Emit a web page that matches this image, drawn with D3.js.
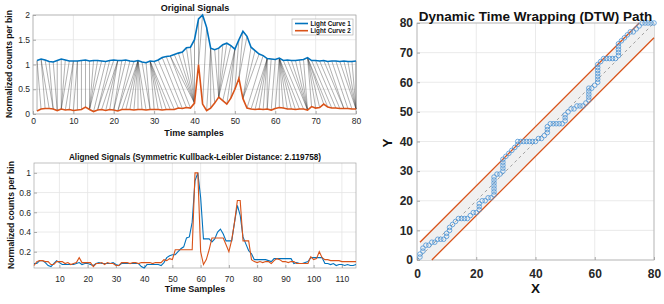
<!DOCTYPE html>
<html>
<head>
<meta charset="utf-8">
<script src="https://cdn.jsdelivr.net/npm/d3@7"></script>
<style>
  body { margin: 0; background: #fff; }
  svg { font-family: "Liberation Sans", Arial, Helvetica, sans-serif; }
</style>
</head>
<body>
<svg id="fig" width="664" height="304"></svg>
<script>
// ---- data ----
// Light Curve 1 is drawn with a +1 offset in the top panel
const lightCurve1 = [1.08, 1.11, 1.09, 1.06, 1.05, 1.08, 1.11, 1.09, 1.07, 1.07,
  1.07, 1.08, 1.09, 1.07, 1.08, 1.08, 1.07, 1.06, 1.08, 1.09,
  1.08, 1.08, 1.09, 1.07, 1.06, 1.08, 1.05, 1.035, 1.07, 1.06,
  1.09, 1.14, 1.16, 1.17, 1.20, 1.23, 1.25, 1.34, 1.35, 1.50,
  1.92, 2.00, 1.75, 1.33, 1.30, 1.33, 1.40, 1.43, 1.38, 1.31,
  1.50, 1.67, 1.57, 1.35, 1.28, 1.21, 1.18, 1.12, 1.11, 1.10,
  1.13, 1.08, 1.09, 1.08, 1.08, 1.09, 1.10, 1.14, 1.08, 1.08,
  1.07, 1.08, 1.06, 1.07, 1.07, 1.06, 1.07, 1.06, 1.06, 1.07];
const lightCurve2 = [0.06, 0.10, 0.11, 0.11, 0.10, 0.07, 0.10, 0.08, 0.09, 0.07,
  0.08, 0.09, 0.14, 0.09, 0.05, 0.08, 0.09, 0.07, 0.09, 0.08,
  0.06, 0.09, 0.09, 0.09, 0.08, 0.09, 0.09, 0.08, 0.09, 0.09,
  0.09, 0.08, 0.09, 0.09, 0.09, 0.12, 0.11, 0.13, 0.12, 0.22,
  1.00, 0.20, 0.07, 0.12, 0.22, 0.34, 0.27, 0.20, 0.32, 0.50,
  0.72, 0.31, 0.12, 0.10, 0.09, 0.10, 0.09, 0.10, 0.08, 0.11,
  0.13, 0.12, 0.10, 0.10, 0.09, 0.10, 0.10, 0.08, 0.15, 0.12,
  0.13, 0.20, 0.14, 0.12, 0.12, 0.11, 0.11, 0.11, 0.10, 0.10];
const curve1Offset = 1;

// DTW warping path: index into curve 1 (X) and curve 2 (Y)
const pathX = [1, 1, 2, 2, 3, 4, 5, 6, 7, 8, 9, 10, 10, 11, 11, 12, 13, 14, 15, 16,
  17, 18, 19, 20, 21, 21, 21, 22, 23, 24, 25, 26, 26, 26, 26, 26, 26, 26, 27, 28,
  29, 29, 29, 29, 29, 30, 31, 32, 33, 34, 34, 35, 36, 37, 38, 39, 40, 41, 42, 43,
  44, 44, 44, 45, 46, 47, 48, 49, 50, 50, 50, 51, 52, 53, 54, 55, 56, 57, 58, 58,
  58, 58, 58, 59, 60, 61, 61, 61, 61, 61, 61, 61, 62, 63, 64, 65, 66, 67, 68, 68,
  68, 68, 68, 69, 70, 71, 72, 73, 74, 75, 76, 77, 78, 79, 80];
const pathY = [1, 2, 3, 4, 5, 5, 6, 6, 7, 7, 7, 8, 9, 10, 11, 12, 13, 14, 14, 14,
  14, 15, 16, 16, 17, 18, 19, 20, 20, 21, 21, 22, 23, 24, 25, 26, 27, 28, 29, 29,
  30, 31, 32, 33, 34, 35, 36, 37, 38, 39, 40, 40, 40, 40, 40, 40, 40, 41, 41, 42,
  43, 44, 45, 46, 46, 46, 46, 46, 47, 48, 49, 50, 51, 51, 52, 52, 52, 53, 54, 55,
  56, 57, 58, 58, 59, 60, 61, 62, 63, 64, 65, 66, 67, 68, 68, 68, 68, 68, 69, 70,
  71, 72, 73, 74, 75, 76, 77, 77, 78, 79, 80, 80, 80, 80, 80];

// Sakoe-Chiba window edges
const windowUpper = [[1, 6], [75, 80]];
const windowLower = [[5, 0], [80, 75]];

const klDistance = "2.119758";

// tick values
const topXTicks = [0, 10, 20, 30, 40, 50, 60, 70, 80];
const topYTicks = [0, 0.5, 1, 1.5, 2];
const botXTicks = [10, 20, 30, 40, 50, 60, 70, 80, 90, 100, 110];
const botYTicks = [0.2, 0.4, 0.6, 0.8, 1];
const dtwXTicks = [0, 20, 40, 60, 80];
const dtwYTicks = [0, 10, 20, 30, 40, 50, 60, 70, 80];

const BLUE = "#0072BD", ORANGE = "#D95319";
const svg = d3.select("#fig");

// draws box, grid and inward ticks for one panel, returns its scales
function makePanel(cfg) {
  const x = d3.scaleLinear().domain(cfg.xDomain).range([cfg.left, cfg.right]);
  const y = d3.scaleLinear().domain(cfg.yDomain).range([cfg.bottom, cfg.top]);
  const g = svg.append("g");

  g.append("rect")
    .attr("x", cfg.left).attr("y", cfg.top)
    .attr("width", cfg.right - cfg.left).attr("height", cfg.bottom - cfg.top)
    .attr("fill", "#fff");

  g.selectAll(".gx").data(cfg.xTicks).join("line")
    .attr("x1", d => x(d)).attr("x2", d => x(d))
    .attr("y1", cfg.top).attr("y2", cfg.bottom)
    .attr("stroke", "#e4e4e4").attr("stroke-width", 0.8);
  g.selectAll(".gy").data(cfg.yTicks).join("line")
    .attr("x1", cfg.left).attr("x2", cfg.right)
    .attr("y1", d => y(d)).attr("y2", d => y(d))
    .attr("stroke", "#e4e4e4").attr("stroke-width", 0.8);

  const xAxis = d3.axisBottom(x).tickValues(cfg.xTicks).tickFormat(d3.format("")).tickSize(-3).tickPadding(cfg.xPad);
  const yAxis = d3.axisLeft(y).tickValues(cfg.yTicks).tickFormat(d3.format("")).tickSize(-3).tickPadding(cfg.yPad);

  const xg = g.append("g").attr("transform", `translate(0,${cfg.bottom})`).call(xAxis);
  const yg = g.append("g").attr("transform", `translate(${cfg.left},0)`).call(yAxis);
  [xg, yg].forEach(a => {
    a.select(".domain").remove();
    a.selectAll("line").attr("stroke", "#777").attr("stroke-width", 0.6);
    a.selectAll("text")
      .attr("fill", "#262626")
      .style("font-size", cfg.tickFont + "px")
      .style("font-weight", cfg.tickBold ? "bold" : "normal");
  });

  g.append("rect")
    .attr("x", cfg.left).attr("y", cfg.top)
    .attr("width", cfg.right - cfg.left).attr("height", cfg.bottom - cfg.top)
    .attr("fill", "none").attr("stroke", "#a6a6a6").attr("stroke-width", 0.7);

  const plot = svg.append("g");
  return {x, y, plot};
}

function addText(txt, x, y, size, opts = {}) {
  const t = svg.append("text")
    .attr("x", x).attr("y", y)
    .attr("text-anchor", "middle")
    .attr("fill", opts.fill || "#111")
    .style("font-size", size + "px")
    .style("font-weight", opts.bold === false ? "normal" : "bold")
    .text(txt);
  if (opts.rotate) t.attr("transform", `rotate(-90,${x},${y})`);
  return t;
}

// ---------- top: original signals ----------
const topPanel = makePanel({
  left: 33, right: 356, top: 15, bottom: 114,
  xDomain: [0, 80], yDomain: [0, 2],
  xTicks: topXTicks, yTicks: topYTicks,
  xPad: 3.5, yPad: 3, tickFont: 8.5
});

topPanel.plot.selectAll(".link").data(d3.zip(pathX, pathY)).join("line")
  .attr("x1", d => topPanel.x(d[0])).attr("y1", d => topPanel.y(lightCurve1[d[0] - 1]))
  .attr("x2", d => topPanel.x(d[1])).attr("y2", d => topPanel.y(lightCurve2[d[1] - 1]))
  .attr("stroke", "#333").attr("stroke-width", 0.45).attr("stroke-opacity", 0.85);

const topLine = d3.line().x((d, i) => topPanel.x(i + 1)).y(d => topPanel.y(d));
topPanel.plot.append("path").datum(lightCurve1).attr("d", topLine)
  .attr("fill", "none").attr("stroke", BLUE).attr("stroke-width", 1.6);
topPanel.plot.append("path").datum(lightCurve2).attr("d", topLine)
  .attr("fill", "none").attr("stroke", ORANGE).attr("stroke-width", 1.6);

// legend
const legend = svg.append("g");
legend.append("rect").attr("x", 292).attr("y", 19).attr("width", 61).attr("height", 16)
  .attr("fill", "#fff").attr("stroke", "#a6a6a6").attr("stroke-width", 0.6);
[["Light Curve 1", BLUE], ["Light Curve 2", ORANGE]].forEach((e, i) => {
  const ly = 23.5 + i * 7.2;
  legend.append("line").attr("x1", 295).attr("x2", 308).attr("y1", ly).attr("y2", ly)
    .attr("stroke", e[1]).attr("stroke-width", 1.6);
  legend.append("text").attr("x", 310.5).attr("y", ly + 2.2)
    .style("font-size", "6.3px").style("font-weight", "bold").attr("fill", "#111").text(e[0]);
});

addText("Original Signals", 195, 11, 9);
addText("Time samples", 194, 135.5, 9);
addText("Normalized counts per bin", 12, 64, 8.6, {rotate: true});

// ---------- bottom: aligned signals ----------
const alignedIdx = d3.range(1, pathX.length + 1);
const aligned1 = pathX.map(i => lightCurve1[i - 1] - curve1Offset);
const aligned2 = pathY.map(j => lightCurve2[j - 1]);

const botPanel = makePanel({
  left: 34, right: 356, top: 163, bottom: 268,
  xDomain: [1, pathX.length], yDomain: [d3.min(aligned1.concat(aligned2)), 1.1],
  xTicks: botXTicks, yTicks: botYTicks,
  xPad: 7.5, yPad: 3, tickFont: 8.5
});

const botLine = d3.line().x((d, i) => botPanel.x(alignedIdx[i])).y(d => botPanel.y(d));
botPanel.plot.append("path").datum(aligned1).attr("d", botLine)
  .attr("fill", "none").attr("stroke", BLUE).attr("stroke-width", 1.1);
botPanel.plot.append("path").datum(aligned2).attr("d", botLine)
  .attr("fill", "none").attr("stroke", ORANGE).attr("stroke-width", 1.1);

addText(`Aligned Signals (Symmetric Kullback-Leibler Distance: ${klDistance})`, 195, 160, 8.2);
addText("Time Samples", 195, 292, 9);
addText("Normalized counts per bin", 14, 215, 8.6, {rotate: true});

// ---------- right: DTW path ----------
const dtwPanel = makePanel({
  left: 417, right: 654, top: 23, bottom: 260,
  xDomain: [0, 80], yDomain: [0, 80],
  xTicks: dtwXTicks, yTicks: dtwYTicks,
  xPad: 9.5, yPad: 4, tickFont: 12, tickBold: true
});

const bandPts = [[windowLower[0][0], 0], [1, 0], windowUpper[0], windowUpper[1],
  [80, 80], windowLower[1]];
dtwPanel.plot.append("path")
  .attr("d", d3.line().x(d => dtwPanel.x(d[0])).y(d => dtwPanel.y(d[1]))(bandPts) + "Z")
  .attr("fill", "#f0f0f0");

dtwPanel.plot.append("line")
  .attr("x1", dtwPanel.x(0)).attr("y1", dtwPanel.y(0)).attr("x2", dtwPanel.x(80)).attr("y2", dtwPanel.y(80))
  .attr("stroke", "#9a9a9a").attr("stroke-width", 0.9).attr("stroke-dasharray", "3,3");

[windowUpper, windowLower].forEach(w => {
  dtwPanel.plot.append("line")
    .attr("x1", dtwPanel.x(w[0][0])).attr("y1", dtwPanel.y(w[0][1]))
    .attr("x2", dtwPanel.x(w[1][0])).attr("y2", dtwPanel.y(w[1][1]))
    .attr("stroke", ORANGE).attr("stroke-width", 1.3);
});

dtwPanel.plot.selectAll(".pt").data(d3.zip(pathX, pathY)).join("circle")
  .attr("cx", d => dtwPanel.x(d[0])).attr("cy", d => dtwPanel.y(d[1]))
  .attr("r", 2.3)
  .attr("fill", "none").attr("stroke", "#4d94d6").attr("stroke-width", 0.8);

addText("Dynamic Time Wrapping (DTW) Path", 535.5, 20.5, 13.5);
addText("X", 535.5, 293, 13.5);
addText("Y", 392, 143, 13.5, {rotate: true});
</script>
</body>
</html>
